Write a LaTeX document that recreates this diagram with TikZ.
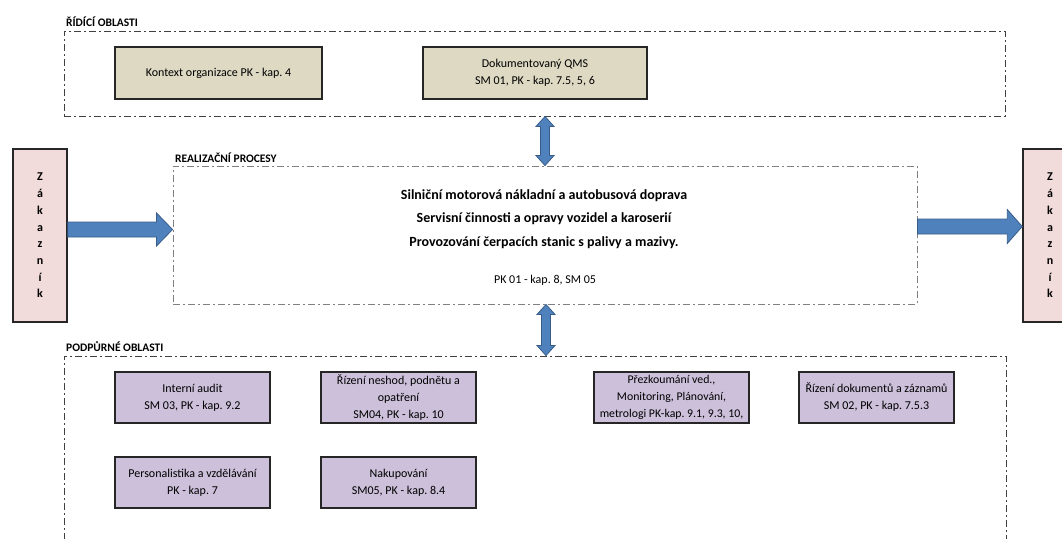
\documentclass[tikz,border=0pt]{standalone}
\usepackage{fontspec}
\setmainfont{Carlito}
\frenchspacing
\usetikzlibrary{calc}
\definecolor{tanfill}{HTML}{DDD9C3}
\definecolor{lilac}{HTML}{CCC0DA}
\definecolor{pinkfill}{HTML}{F2DCDB}
\definecolor{arrowblue}{HTML}{4F81BD}
\definecolor{arrowedge}{HTML}{385D8A}
\tikzset{
  region/.style={draw=#1, line width=0.9pt, dash pattern=on 7pt off 3pt on 2pt off 3pt, inner sep=0pt},
  grouptitle/.style={font=\bfseries\fontsize{11.5}{13}\selectfont, inner sep=0pt, anchor=base west},
  ctrlbox/.style={draw=black!85, line width=1.5pt, fill=tanfill, inner sep=0pt, align=center,
    minimum height=52pt, font=\fontsize{12}{17}\selectfont},
  suppbox/.style={draw=black!85, line width=1.5pt, fill=lilac, inner sep=0pt, align=center,
    minimum width=155pt, minimum height=51pt, font=\fontsize{12}{17}\selectfont},
  custbox/.style={draw=black!85, line width=1.5pt, fill=pinkfill, inner sep=0pt, align=center,
    minimum width=54pt, minimum height=173pt, font=\bfseries\fontsize{12}{16.7}\selectfont},
  blockarrow/.style={fill=arrowblue, draw=arrowedge, line width=0.8pt, line join=miter}
}
\begin{document}
\begin{tikzpicture}[x=1pt, y=-1pt]
  \clip (0,0) rectangle (1062,538);
  \fill[white] (0,0) rectangle (1062,538);

  \node[region=black!75, minimum width=941pt, minimum height=85pt] (ridici) at (534.5,73.5) {};
  \node[region=black!50, minimum width=744pt, minimum height=138pt] (real) at (545,235) {};
  \node[region=black!75, minimum width=942pt, minimum height=204pt] (podpurne) at (535,458) {};

  \node[grouptitle] (ridicititle) at (66,27) {ŘÍDÍCÍ OBLASTI};
  \node[grouptitle] (realtitle) at (175,162) {REALIZAČNÍ PROCESY};
  \node[grouptitle] (podpurnetitle) at (66,351) {PODPŮRNÉ OBLASTI};

  \node[ctrlbox, minimum width=207pt] (kontext) at (218.5,73) {Kontext organizace PK - kap. 4};
  \node[ctrlbox, minimum width=224pt] (qms) at (535,73) {Dokumentovaný QMS\\SM 01, PK - kap. 7.5, 5, 6};

  \node[align=center, inner sep=0pt, font=\bfseries\fontsize{14}{23.5}\selectfont] (realtext) at (544,219)
    {Silniční motorová nákladní a autobusová doprava\\
     Servisní činnosti a opravy vozidel a karoserií\\
     Provozování čerpacích stanic s palivy a mazivy.};
  \node[inner sep=0pt, font=\fontsize{12}{14}\selectfont] (realref) at (545,280) {PK 01 - kap. 8, SM 05};

  \node[custbox] (zakL) at (40,235.5) {Z\\á\\k\\a\\z\\n\\í\\k};
  \node[custbox] (zakR) at (1050,235.5) {Z\\á\\k\\a\\z\\n\\í\\k};

  \node[suppbox] (audit) at (192.5,397.5) {Interní audit\\SM 03, PK - kap. 9.2};
  \node[suppbox] (neshody) at (398.5,397.5) {Řízení neshod, podnětu a\\opatření\\SM04, PK - kap. 10};
  \node[suppbox, font=\fontsize{11.8}{17}\selectfont] (prezkum) at (671.5,397.5) {Přezkoumání ved.,\\Monitoring, Plánování,\\metrologi PK-kap. 9.1, 9.3, 10,};
  \node[suppbox] (dokumenty) at (876.5,397.5) {Řízení dokumentů a záznamů\\SM 02, PK - kap. 7.5.3};
  \node[suppbox] (personal) at (192.5,482.5) {Personalistika a vzdělávání\\PK - kap. 7};
  \node[suppbox] (nakup) at (398.5,482.5) {Nakupování\\SM05, PK - kap. 8.4};

  \coordinate (lin) at ($(zakL.east)+(0,-6)$);
  \coordinate (lout) at (real.west |- lin);
  \draw[blockarrow] ($(lin)+(0,-7.5)$) -- ($(lout)+(-16,-7.5)$) -- ($(lout)+(-16,-16.5)$) -- (lout)
    -- ($(lout)+(-16,16.5)$) -- ($(lout)+(-16,7.5)$) -- ($(lin)+(0,7.5)$) -- cycle;

  \coordinate (rin) at ($(real.east)+(0,-8.5)$);
  \coordinate (rout) at (zakR.west |- rin);
  \draw[blockarrow] ($(rin)+(0,-7.5)$) -- ($(rout)+(-15,-7.5)$) -- ($(rout)+(-15,-17)$) -- (rout)
    -- ($(rout)+(-15,17)$) -- ($(rout)+(-15,7.5)$) -- ($(rin)+(0,7.5)$) -- cycle;

  \coordinate (ax) at (545,0);
  \coordinate (ttop) at (ax |- ridici.south);
  \coordinate (tbot) at (ax |- real.north);
  \draw[blockarrow] (ttop) -- ($(ttop)+(9,10)$) -- ($(ttop)+(4.5,10)$) -- ($(tbot)+(4.5,-10)$) -- ($(tbot)+(9,-10)$)
    -- (tbot) -- ($(tbot)+(-9,-10)$) -- ($(tbot)+(-4.5,-10)$) -- ($(ttop)+(-4.5,10)$) -- ($(ttop)+(-9,10)$) -- cycle;

  \coordinate (bx) at (546,0);
  \coordinate (btop) at (bx |- real.south);
  \coordinate (bbot) at (bx |- podpurne.north);
  \draw[blockarrow] (btop) -- ($(btop)+(9,10)$) -- ($(btop)+(4.5,10)$) -- ($(bbot)+(4.5,-10)$) -- ($(bbot)+(9,-10)$)
    -- (bbot) -- ($(bbot)+(-9,-10)$) -- ($(bbot)+(-4.5,-10)$) -- ($(btop)+(-4.5,10)$) -- ($(btop)+(-9,10)$) -- cycle;
\end{tikzpicture}
\end{document}
